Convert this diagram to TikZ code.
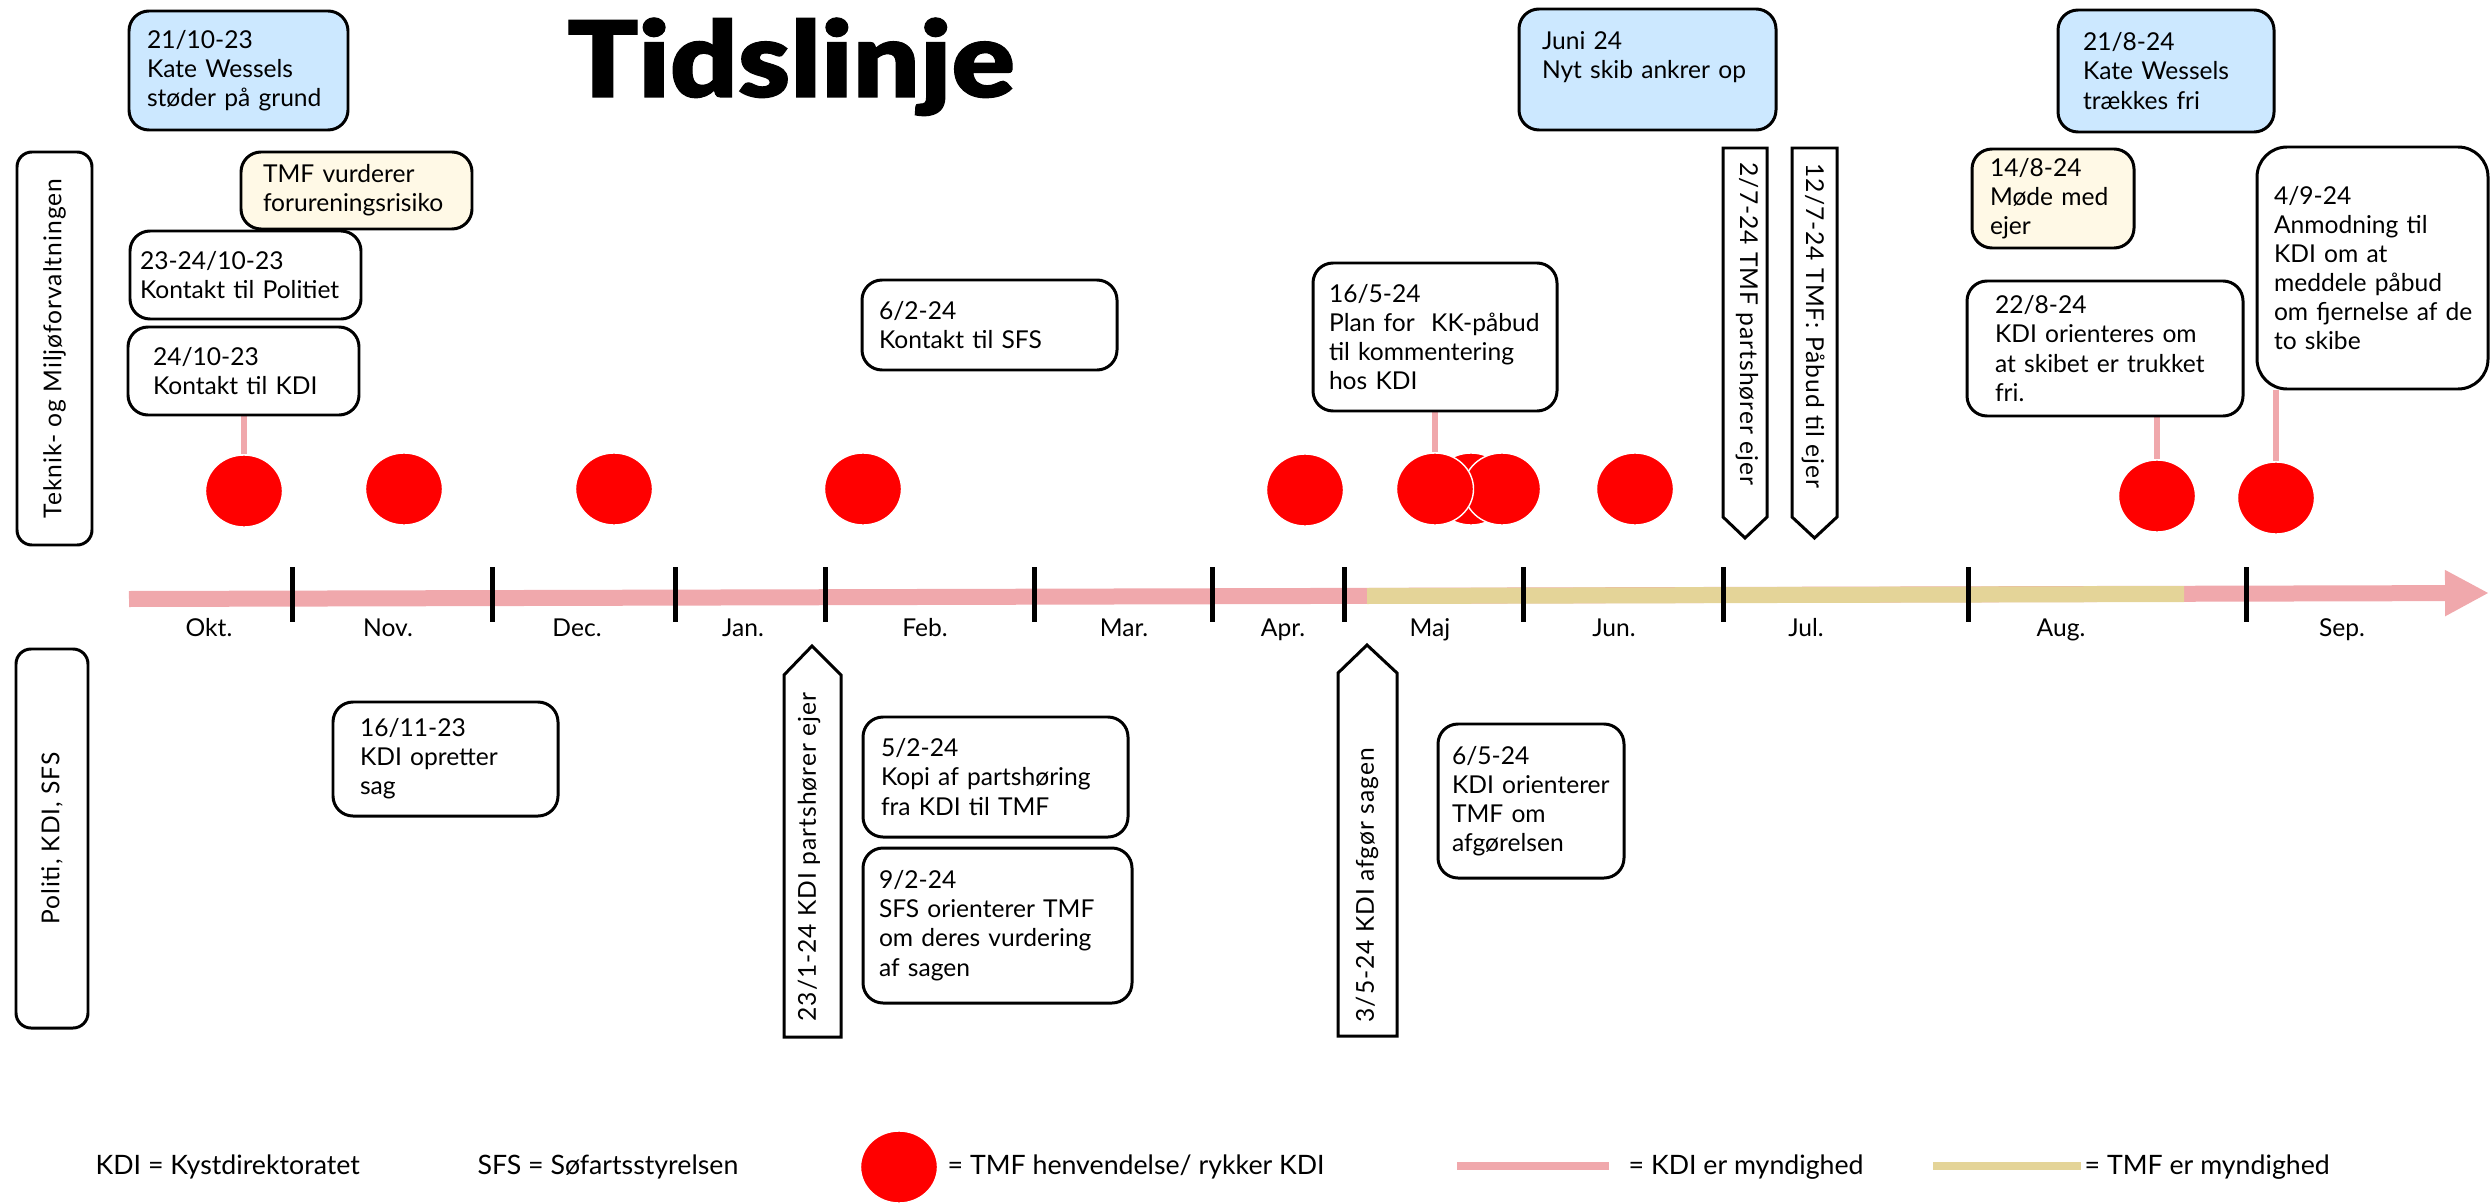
\documentclass[tikz,border=0pt]{standalone}
\usepackage{fontspec}
\setmainfont{Lato}
\IfFontExistsTF{Lato Black}{\newfontfamily\titlefont{Lato Black}[FakeStretch=1.12,FakeBold=1]}{\newcommand\titlefont{\bfseries}}
\newfontfamily\spacedfont{Lato}[LetterSpace=4]
\usepackage{tikz}
\usetikzlibrary{shapes.geometric,arrows.meta,backgrounds}
\definecolor{lblue}{RGB}{204,232,255}
\definecolor{cream}{RGB}{255,249,230}
\definecolor{kdipink}{RGB}{240,168,172}
\definecolor{tmftan}{RGB}{228,212,152}
\pgfdeclarelayer{edgelayer}
\pgfdeclarelayer{nodelayer}
\pgfsetlayers{edgelayer,nodelayer,main}
\tikzstyle{none}=[inner sep=0pt]
\tikzstyle{title}=[inner sep=0pt, anchor=base, font=\titlefont\fontsize{30}{32}\selectfont]
\tikzstyle{event}=[rectangle, rounded corners=0.2cm, draw=black, fill=white, line width=0.85pt, align=left, inner ysep=0pt, font=\fontsize{7}{8.3}\selectfont, execute at begin node={\hyphenpenalty=10000\relax}]
\tikzstyle{ship}=[style=event, fill=lblue]
\tikzstyle{meeting}=[style=event, fill=cream]
\tikzstyle{party}=[rectangle, rounded corners=0.15cm, draw=black, line width=0.85pt, inner sep=0pt, rotate=90, font=\spacedfont\fontsize{7}{8}\selectfont]
\tikzstyle{flag}=[draw=black, fill=white, line width=0.85pt]
\tikzstyle{flagtext}=[inner sep=0pt, font=\spacedfont\fontsize{7}{8}\selectfont]
\tikzstyle{contact}=[ellipse, fill=red, draw=white, line width=0.4pt, minimum width=0.77cm, minimum height=0.72cm, inner sep=0pt]
\tikzstyle{month}=[inner sep=0pt, anchor=base, font=\fontsize{7}{8}\selectfont]
\tikzstyle{legend}=[inner sep=0pt, anchor=west, font=\fontsize{7.6}{9}\selectfont]
\tikzstyle{kdiline}=[-, draw=kdipink, line width=0.16cm]
\tikzstyle{tmfline}=[-, draw=tmftan, line width=0.16cm]
\tikzstyle{timearrow}=[-{Triangle[length=0.44cm,width=0.43cm]}, draw=kdipink, fill=kdipink, line width=0.16cm]
\tikzstyle{stem}=[-, draw=kdipink, line width=0.06cm]
\tikzstyle{tick}=[-, draw=black, line width=0.05cm]
\tikzstyle{keyline}=[-, line width=0.08cm]

\begin{document}
\begin{tikzpicture}
	\useasboundingbox (0,0) rectangle (24.91,-12.04);
	\begin{pgfonlayer}{nodelayer}
		\node [style=title] (title) at (7.91,-0.97) {Tidslinje};

		% the two parties
		\node [style=party, minimum width=3.93cm, minimum height=0.75cm] (tmf) at (0.545,-3.485) {Teknik- og Miljøforvaltningen};
		\node [style=party, minimum width=3.79cm, minimum height=0.72cm] (pol) at (0.52,-8.385) {Politi, KDI, SFS};

		% above the line
		\node [style=ship, minimum width=2.19cm, minimum height=1.19cm, inner xsep=0.18cm, text width=1.83cm] (grund) at (2.385,-0.705) {21/10-23\\Kate~Wessels\\støder~på~grund};
		\node [style=ship, minimum width=2.57cm, minimum height=1.21cm, inner xsep=0.23cm, text width=2.11cm] (juni) at (16.475,-0.695) {Juni~24\\Nyt~skib~ankrer~op\\~};
		\node [style=ship, minimum width=2.16cm, minimum height=1.22cm, inner xsep=0.25cm, text width=1.66cm] (fri) at (21.66,-0.71) {21/8-24\\Kate~Wessels\\trækkes~fri};
		\node [style=meeting, minimum width=2.31cm, minimum height=0.77cm, inner xsep=0.22cm, text width=1.87cm] (risiko) at (3.565,-1.905) {TMF~vurderer\\forureningsrisiko};
		\node [style=event, minimum width=2.31cm, minimum height=0.88cm, inner xsep=0.10cm, text width=2.11cm] (politiet) at (2.455,-2.75) {23-24/10-23\\Kontakt~til~Politiet};
		\node [style=event, minimum width=2.31cm, minimum height=0.88cm, inner xsep=0.25cm, text width=1.81cm] (kdi) at (2.435,-3.71) {24/10-23\\Kontakt~til~KDI};
		\node [style=event, minimum width=2.55cm, minimum height=0.90cm, inner xsep=0.17cm, text width=2.21cm] (sfs) at (9.895,-3.25) {6/2-24\\Kontakt~til~SFS};
		\node [style=event, minimum width=2.44cm, minimum height=1.48cm, inner xsep=0.16cm, text width=2.12cm] (plan) at (14.35,-3.37) {16/5-24\\Plan~for~~KK-påbud\\til~kommentering\\hos~KDI};
		\node [style=meeting, minimum width=1.62cm, minimum height=0.99cm, inner xsep=0.18cm, text width=1.26cm] (moede) at (20.53,-1.985) {14/8-24\\Møde~med\\ejer};
		\node [style=event, minimum width=2.76cm, minimum height=1.35cm, inner xsep=0.28cm, text width=2.20cm] (trukket) at (21.05,-3.485) {22/8-24\\KDI~orienteres~om\\at~skibet~er~trukket\\fri.};
		\node [style=event, rounded corners=0.3cm, minimum width=2.31cm, minimum height=2.42cm, inner xsep=0.17cm, text width=1.97cm] (anmod) at (23.725,-2.68) {4/9-24\\Anmodning~til\\KDI~om~at\\meddele~påbud\\om~fjernelse~af~de\\to~skibe};

		% below the line
		\node [style=event, minimum width=2.25cm, minimum height=1.14cm, inner xsep=0.27cm, text width=1.71cm] (sag) at (4.455,-7.59) {16/11-23\\KDI~opretter\\sag};
		\node [style=event, minimum width=2.65cm, minimum height=1.20cm, inner xsep=0.18cm, text width=2.29cm] (kopi) at (9.955,-7.77) {5/2-24\\Kopi~af~partshøring\\fra~KDI~til~TMF};
		\node [style=event, minimum width=2.69cm, minimum height=1.55cm, inner xsep=0.16cm, text width=2.37cm] (vurd) at (9.975,-9.255) {9/2-24\\SFS~orienterer~TMF\\om~deres~vurdering\\af~sagen};
		\node [style=event, minimum width=1.86cm, minimum height=1.54cm, inner xsep=0.14cm, text width=1.58cm] (afg) at (15.31,-8.01) {6/5-24\\KDI~orienterer\\TMF~om\\afgørelsen};

		% TMF contacts KDI
		\node [style=contact] (c1) at (2.44,-4.91) {};
		\node [style=contact] (c2) at (4.04,-4.89) {};
		\node [style=contact] (c3) at (6.14,-4.89) {};
		\node [style=contact] (c4) at (8.63,-4.89) {};
		\node [style=contact] (c5) at (13.05,-4.90) {};
		\node [style=contact] (c6) at (14.71,-4.89) {};
		\node [style=contact] (c8) at (15.02,-4.89) {};
		\node [style=contact] (c7) at (14.35,-4.89) {};
		\node [style=contact] (c9) at (16.35,-4.89) {};
		\node [style=contact] (c10) at (21.57,-4.96) {};
		\node [style=contact] (c11) at (22.76,-4.98) {};

		% months
		\node [style=month] (okt) at (2.09,-6.36) {Okt.};
		\node [style=month] (nov) at (3.88,-6.36) {Nov.};
		\node [style=month] (dec) at (5.77,-6.36) {Dec.};
		\node [style=month] (jan) at (7.43,-6.36) {Jan.};
		\node [style=month] (feb) at (9.25,-6.36) {Feb.};
		\node [style=month] (mar) at (11.24,-6.36) {Mar.};
		\node [style=month] (apr) at (12.83,-6.36) {Apr.};
		\node [style=month] (maj) at (14.30,-6.36) {Maj};
		\node [style=month] (jun) at (16.14,-6.36) {Jun.};
		\node [style=month] (jul) at (18.06,-6.36) {Jul.};
		\node [style=month] (aug) at (20.61,-6.36) {Aug.};
		\node [style=month] (sep) at (23.42,-6.36) {Sep.};

		% legend
		\node [style=legend] (kdidef) at (0.95,-11.67) {KDI = Kystdirektoratet};
		\node [style=legend] (sfsdef) at (4.77,-11.67) {SFS = Søfartsstyrelsen};
		\node [style=contact] (keydot) at (8.99,-11.67) {};
		\node [style=legend] (dotdef) at (9.47,-11.67) {= TMF henvendelse/ rykker KDI};
		\node [style=legend] (kdiauth) at (16.28,-11.67) {= KDI er myndighed};
		\node [style=legend] (tmfauth) at (20.84,-11.67) {= TMF er myndighed};
		\coordinate (kdia) at (14.57,-11.66);
		\coordinate (kdib) at (16.09,-11.66);
		\coordinate (tmfa) at (19.33,-11.66);
		\coordinate (tmfb) at (20.81,-11.66);
	\end{pgfonlayer}
	\begin{pgfonlayer}{edgelayer}
		% time line
		\coordinate (start) at (1.29,-5.99);
		\coordinate (end) at (24.89,-5.93);
		\coordinate (tmfstart) at (13.67,-5.96);
		\coordinate (tmfend) at (21.84,-5.94);
		\draw [style=timearrow] (start) to (end);
		\draw [style=tmfline] (tmfstart) to (tmfend);
		\draw [style=tick] (2.92,-5.67) to (2.92,-6.22);
		\draw [style=tick] (4.92,-5.67) to (4.92,-6.22);
		\draw [style=tick] (6.75,-5.67) to (6.75,-6.22);
		\draw [style=tick] (8.25,-5.67) to (8.25,-6.22);
		\draw [style=tick] (10.34,-5.67) to (10.34,-6.22);
		\draw [style=tick] (12.12,-5.67) to (12.12,-6.22);
		\draw [style=tick] (13.44,-5.67) to (13.44,-6.22);
		\draw [style=tick] (15.23,-5.67) to (15.23,-6.22);
		\draw [style=tick] (17.23,-5.67) to (17.23,-6.22);
		\draw [style=tick] (19.68,-5.67) to (19.68,-6.22);
		\draw [style=tick] (22.46,-5.67) to (22.46,-6.22);

		% stems
		\draw [style=stem] (c1 |- kdi.south) to (c1.north);
		\draw [style=stem] (c7 |- plan.south) to (c7.north);
		\draw [style=stem] (c10 |- trukket.south) to (c10.north);
		\draw [style=stem] (c11 |- anmod.south) to (c11.north);

		% legend lines
		\draw [style=keyline, draw=kdipink] (kdia) to (kdib);
		\draw [style=keyline, draw=tmftan] (tmfa) to (tmfb);
	\end{pgfonlayer}

	% pointed boxes
	\draw [style=flag] (17.23,-1.48) -- (17.67,-1.48) -- (17.67,-5.17) -- (17.45,-5.38) -- (17.23,-5.17) -- cycle;
	\node [style=flagtext, rotate=-90, anchor=west] (hoer1) at (17.47,-1.62) {2/7-24 TMF partshører ejer};
	\draw [style=flag] (17.92,-1.48) -- (18.37,-1.48) -- (18.37,-5.17) -- (18.145,-5.38) -- (17.92,-5.17) -- cycle;
	\node [style=flagtext, rotate=-90, anchor=west] (paabud) at (18.13,-1.63) {12/7-24 TMF: Påbud til ejer};
	\draw [style=flag] (7.84,-10.37) -- (7.84,-6.75) -- (8.12,-6.46) -- (8.41,-6.75) -- (8.41,-10.37) -- cycle;
	\node [style=flagtext, rotate=90, anchor=west] (hoer2) at (8.09,-10.22) {23/1-24 KDI partshører ejer};
	\draw [style=flag] (13.38,-10.36) -- (13.38,-6.73) -- (13.67,-6.45) -- (13.97,-6.73) -- (13.97,-10.36) -- cycle;
	\node [style=flagtext, rotate=90, anchor=west] (afgoer) at (13.67,-10.23) {3/5-24 KDI afgør sagen};
\end{tikzpicture}
\end{document}
